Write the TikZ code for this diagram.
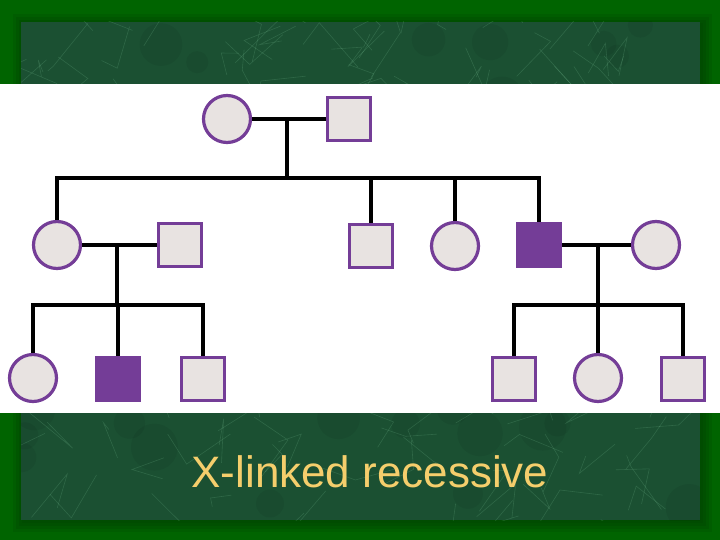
\documentclass[tikz,border=0pt]{standalone}
\usepackage{fontspec}
\setmainfont{Liberation Sans}
\usepackage{xcolor}
\usepackage{tikz}
\usetikzlibrary{positioning,calc}
\definecolor{Frame}{HTML}{006400}
\definecolor{FrameShade}{HTML}{004A00}
\definecolor{Marble}{HTML}{1B5032}
\definecolor{Vein}{HTML}{8AD4A6}
\definecolor{Ped}{HTML}{743D97}
\definecolor{Unaff}{HTML}{E8E3E1}
\definecolor{Caption}{HTML}{F5CE6C}
\tikzset{
  female/.style={circle, draw=Ped, fill=Unaff, line width=3.2pt, minimum size=47pt, inner sep=0pt},
  male/.style={rectangle, draw=Ped, fill=Unaff, line width=3.2pt, minimum size=43pt, inner sep=0pt},
  affected/.style={fill=Ped},
  kin/.style={black, line width=3.6pt, line join=miter}
}

\begin{document}
\begin{tikzpicture}[x=1pt, y=-1pt]
\useasboundingbox (0,0) rectangle (720,540);

% slide background
\fill[Frame] (0,0) rectangle (720,540);
\foreach \g/\o in {12/0.25, 9/0.35, 6/0.45, 3/0.6} {
  \fill[FrameShade, opacity=\o] (21-\g+4,22-\g+4) rectangle (700+\g,520+\g);
}
\fill[Marble] (21,22) rectangle (700,520);
\begin{scope}
  \clip (21,22) rectangle (700,520);
  \pgfmathsetseed{11}
  \foreach \i in {1,...,60} {
    \pgfmathsetmacro\xa{21+679*rnd}
    \pgfmathsetmacro\ya{22+498*rnd}
    \fill[black, opacity=0.06] (\xa,\ya) circle (10+14*rnd);
  }
  \foreach \i in {1,...,220} {
    \pgfmathsetmacro\xa{21+679*rnd}
    \pgfmathsetmacro\ya{22+498*rnd}
    \pgfmathsetmacro\xb{\xa+45*rand}
    \pgfmathsetmacro\yb{\ya+45*rand}
    \pgfmathsetmacro\xc{\xb+35*rand}
    \pgfmathsetmacro\yc{\yb+35*rand}
    \draw[Vein, opacity=0.18, line width=0.6pt] (\xa,\ya) -- (\xb,\yb) -- (\xc,\yc);
  }
\end{scope}
\fill[white] (0,84) rectangle (720,413);

% generation I
\node[female] (I1) at (227,119) {};
\node[male] (I2) at (349,119) {};

% generation II
\node[female] (II1) at (57,245) {};
\node[male] (II2) at (180,245) {};
\node[male] (II3) at (371,246) {};
\node[female] (II4) at (455,246) {};
\node[male, affected] (II5) at (539,245) {};
\node[female] (II6) at (656,245) {};

% generation III
\node[female] (III1) at (33,378) {};
\node[male, affected] (III2) at (118,379) {};
\node[male] (III3) at (203,379) {};
\node[male] (III4) at (514,379) {};
\node[female] (III5) at (598,378) {};
\node[male] (III6) at (683,379) {};

% matings and sibships
\coordinate (m1) at (287,119);
\coordinate (s1) at (287,178);
\coordinate (m2) at (117,245);
\coordinate (s2) at (117,305);
\coordinate (m3) at (598,245);
\coordinate (s3) at (598,305);

\draw[kin] (I1) -- (I2);
\draw[kin] (m1) -- (s1);
\draw[kin] (II1.north) |- (s1) -| (II5.north);
\draw[kin] (II3.north) -- (II3.north |- s1);
\draw[kin] (II4.north) -- (II4.north |- s1);

\draw[kin] (II1) -- (II2);
\draw[kin] (m2) -- (s2);
\draw[kin] (III1.north) |- (s2) -| (III3.north);
\draw[kin] (III2.north) -- (III2.north |- s2);

\draw[kin] (II5) -- (II6);
\draw[kin] (m3) -- (s3);
\draw[kin] (III4.north) |- (s3) -| (III6.north);
\draw[kin] (III5.north) -- (s3);

% caption
\node[anchor=base, text=Caption, font=\fontsize{44}{52}\selectfont, inner sep=0pt] (cap) at (370,487) {X-linked recessive};
\end{tikzpicture}
\end{document}
